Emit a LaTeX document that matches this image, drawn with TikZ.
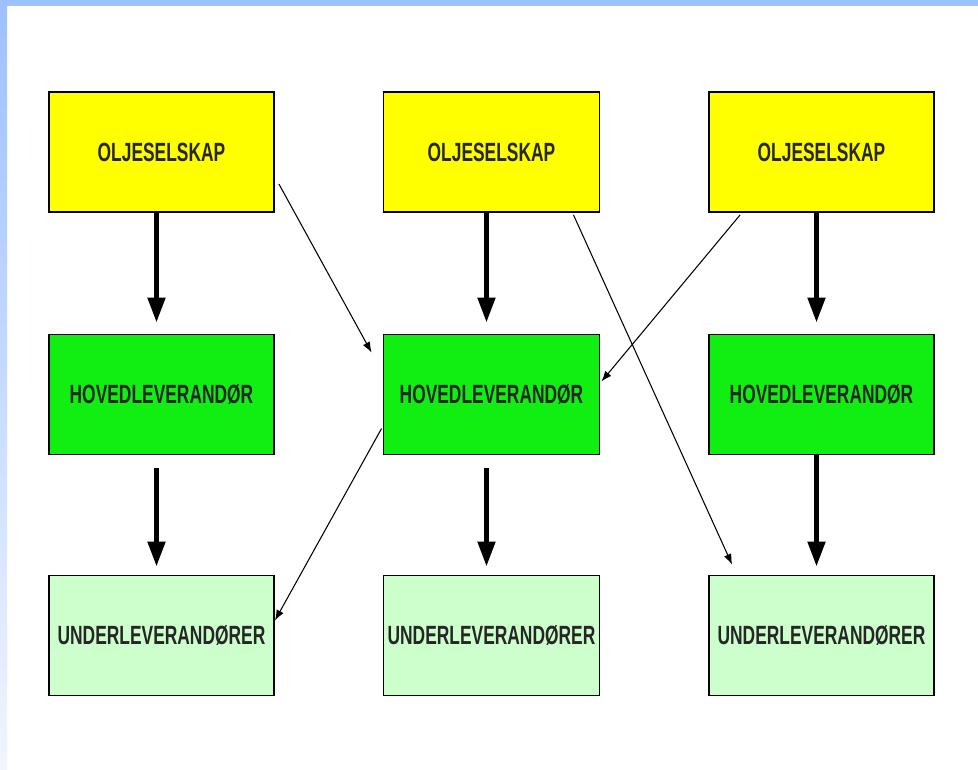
\documentclass[tikz,border=0pt]{standalone}
\usepackage{fontspec}
\newfontfamily\boxfont[FakeStretch=0.66]{Liberation Sans}
\usepackage{tikz}
\usetikzlibrary{arrows.meta,calc}

\definecolor{rahmenblau}{HTML}{9DC0FF}
\definecolor{oljegul}{HTML}{FFFF00}
\definecolor{hovedgronn}{HTML}{11EE11}
\definecolor{undergronn}{HTML}{CCFFCC}

\begin{document}
\begin{tikzpicture}
		[
		x=0.02cm, y=-0.02cm, >=latex,
		%Voreinstellung für Kästen und Pfeile
		kasten/.style={draw=black, line width=1.1pt, minimum height=2.4cm, inner sep=0pt,
			text=black!85, font=\boxfont\bfseries\fontsize{15}{17}\selectfont},
		dickpfeil/.style={-{Triangle[width=0.34cm, length=0.5cm]}, line width=2.8pt},
		duennpfeil/.style={-{Latex[length=6pt, width=4.5pt]}, line width=0.6pt}
		]
		
		%Hintergrund und Rand
		\useasboundingbox (0,0) rectangle (978,769);
		\fill [white] (0,0) rectangle (978,769);
		\shade [top color=rahmenblau, bottom color=rahmenblau!15] (0,0) rectangle (7,769);
		\fill [rahmenblau] (0,0) rectangle (978,6);
		
		%Kästen, drei Spalten
		\foreach \i/\x/\w in {1/161.5/4.5cm, 2/491.5/4.32cm, 3/821.5/4.5cm}
		{
			\node [kasten, fill=oljegul, minimum width=\w] (o\i) at (\x,152) {OLJESELSKAP};
			\node [kasten, fill=hovedgronn, minimum width=\w] (h\i) at (\x,394.5) {HOVEDLEVERANDØR};
			\node [kasten, fill=undergronn, minimum width=\w] (u\i) at (\x,635.5) {UNDERLEVERANDØRER};
		}
		
		%dicke Pfeile nach unten
		\foreach \i in {1,2,3}
		\draw [dickpfeil] ($(o\i.south)+(-5,0)$) -- ($(h\i.north)+(-5,-11)$);
		\draw [dickpfeil] ($(h1.south)+(-5,13)$) -- ($(u1.north)+(-5,-8)$);
		\draw [dickpfeil] ($(h2.south)+(-5,13)$) -- ($(u2.north)+(-5,-8)$);
		\draw [dickpfeil] ($(h3.south)+(-5,0)$) -- ($(u3.north)+(-5,-8)$);
		
		%dünne Pfeile über Kreuz
		\draw [duennpfeil] ($(o1.north east)+(4,93)$) -- ($(h2.north west)+(-11,19)$);
		\draw [duennpfeil] ($(o3.south west)+(32,2)$) -- ($(h2.east)+(1,-13)$);
		\draw [duennpfeil] ($(h2.west)+(-1,34)$) -- ($(u1.east)+(0,-15)$);
		\draw [duennpfeil] ($(o2.south)+(82,2)$) -- ($(u3.north west)+(24,-10)$);
	\end{tikzpicture}
\end{document}
